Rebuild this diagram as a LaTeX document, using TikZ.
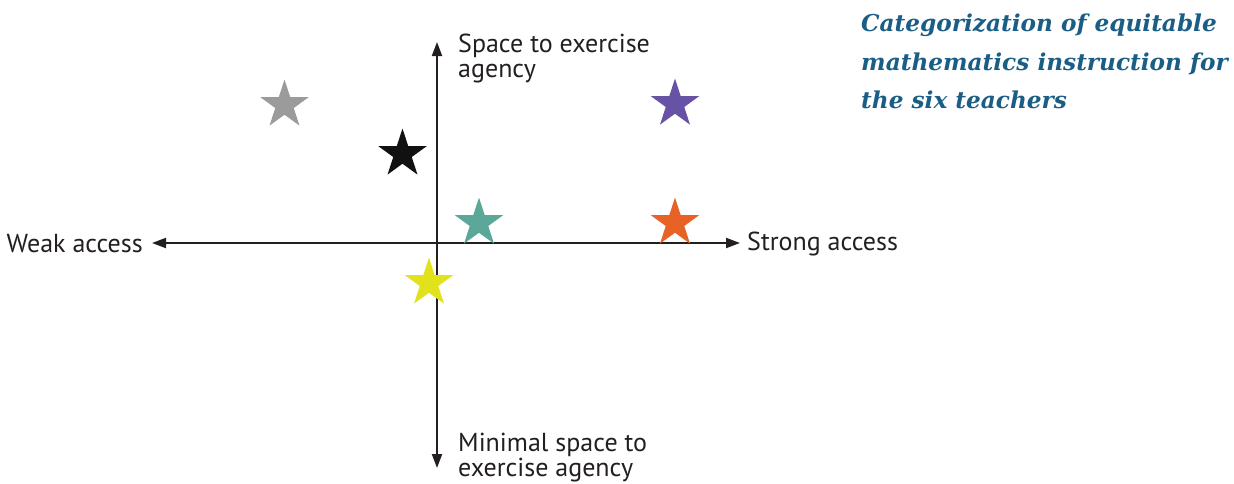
\documentclass[tikz,border=0pt]{standalone}
\usepackage{fontspec}
\setsansfont{PT Sans}
\newfontfamily\titlefont{DejaVu Serif}
\usetikzlibrary{arrows.meta,shapes.geometric}
\definecolor{axiscol}{HTML}{231F20}
\definecolor{titlecol}{HTML}{1A5E86}
\definecolor{sgray}{HTML}{9B9B9B}
\definecolor{sblack}{HTML}{111111}
\definecolor{spurple}{HTML}{6752A6}
\definecolor{steal}{HTML}{5BA89A}
\definecolor{sorange}{HTML}{E86125}
\definecolor{syellow}{HTML}{E1E11C}
\tikzset{
  axis/.style={draw=axiscol, line width=2pt, {Triangle[length=14pt,width=10pt]}-{Triangle[length=14pt,width=10pt]}},
  starmark/.style={star, star points=5, star point ratio=2.618, minimum size=51pt, inner sep=0pt, draw=none, fill=#1},
  axlabel/.style={font=\sffamily\fontsize{26}{24.5}\selectfont, text=axiscol, inner sep=0pt},
  titletext/.style={font=\titlefont\bfseries\itshape\fontsize{23.2}{38.5}\selectfont, text=titlecol, align=left, inner sep=0pt, anchor=north west}
}
\begin{document}
\begin{tikzpicture}[x=1pt,y=-1pt]
\useasboundingbox (0,0) rectangle (1234,483);
\coordinate (L) at (152,243);
\coordinate (R) at (740,243);
\coordinate (T) at (437,42);
\coordinate (B) at (437,468);
\draw[axis] (L) -- (R);
\draw[axis] (T) -- (B);
\node[axlabel, anchor=east] (weak) at (143,244) {Weak access};
\node[axlabel, anchor=west] (strong) at (747,244) {Strong access};
\node[axlabel, anchor=north west, align=left] (top) at (458,34) {Space to exercise\\agency};
\node[axlabel, anchor=north west, align=left] (bot) at (458,433) {Minimal space to\\exercise agency};
\node[starmark=sgray] (s1) at (284.5,105) {};
\node[starmark=sblack] (s2) at (402.5,154) {};
\node[starmark=spurple] (s3) at (675,104) {};
\node[starmark=steal] (s4) at (479,223) {};
\node[starmark=sorange] (s5) at (675,223) {};
\node[starmark=syellow] (s6) at (429,283) {};
\node[titletext] (title) at (861,14) {Categorization of equitable\\mathematics instruction for\\the six teachers};
\end{tikzpicture}
\end{document}
